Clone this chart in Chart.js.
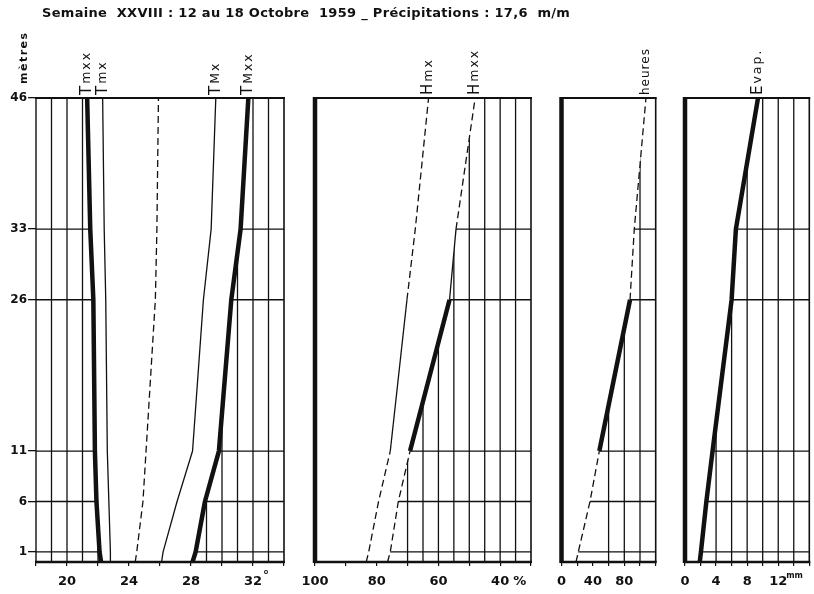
<!DOCTYPE html>
<html lang="fr">
<head>
<meta charset="utf-8">
<title>Semaine XXVIII – profils</title>
<script src="https://cdn.jsdelivr.net/npm/chart.js@4/dist/chart.umd.min.js"></script>
<style>
  body { margin: 0; background: #fff; }
  #page { position: relative; width: 814px; height: 594px; overflow: hidden; background: #fff; }
  canvas { position: absolute; top: 0; }
  #titre {
    position: absolute; left: 42px; top: 5px; white-space: pre; letter-spacing: 0.3px;
    font: bold 13px "DejaVu Sans", sans-serif; color: #111;
  }
</style>
</head>
<body>
<div id="page">
  <canvas id="p1" width="300" height="594" style="left:0"></canvas>
  <canvas id="p2" width="245" height="594" style="left:300px"></canvas>
  <canvas id="p3" width="125" height="594" style="left:545px"></canvas>
  <canvas id="p4" width="144" height="594" style="left:670px"></canvas>
  <div id="titre">Semaine  XXVIII : 12 au 18 Octobre  1959 _ Précipitations : 17,6  m/m</div>
</div>
<script>
// hauteurs de mesure (m), 0 = sol
const hauteurs = [0, 1, 6, 11, 26, 33, 46];
const niveaux = [1, 6, 11, 26, 33, 46];

// températures (°C)
const tMinAbs = [22.2, 22.1, 21.9, 21.8, 21.7, 21.5, 21.3];
const tMinMoy = [22.8, 22.8, 22.7, 22.6, 22.5, 22.4, 22.3];
const tMoy    = [24.4, 24.5, 24.9, 25.1, 25.7, 25.8, 25.9];
const tMaxMoy = [26.1, 26.2, 27.1, 28.1, 28.8, 29.3, 29.6];
const tMaxAbs = [28.1, 28.3, 28.9, 29.8, 30.6, 31.2, 31.7];

// humidité relative (%)
const hMinMoy = [83.4, 82.6, 79.4, 75.6, 70.2, 67.5, 63.2];
const hMinAbs = [76.5, 75.6, 73.0, 69.2, 56.4, 54.3, 48.1];

// heures
const heures = [18.5, 21.4, 36.3, 48.2, 87.3, 92.7, 107.6];

// évaporation (mm)
const evap = [1.9, 2.05, 2.75, 3.55, 6.0, 6.55, 9.4];

// graduations chiffrées
const ticksTemp = [20, 24, 28, 32];
const ticksHum = [100, 80, 60, 40];
const ticksHeures = [0, 40, 80];
const ticksEvap = [0, 4, 8, 12];

const encre = '#111';
const epais = 4.5, fin = 1.3, tirets = [7, 4];
const police = '"DejaVu Sans", sans-serif';

const traits = {
  tirets: { w: fin, dash: tirets },
  fin: { w: fin, dash: [] },
  gras: { w: epais, dash: [] }
};

// style d'un tronçon choisi d'après la hauteur de son point haut
function troncons(choix) {
  return {
    borderWidth: c => traits[choix(hauteurs[c.p1DataIndex])].w,
    borderDash: c => traits[choix(hauteurs[c.p1DataIndex])].dash
  };
}

const cadre = {
  id: 'cadre',
  beforeDatasetsDraw(chart, args, o) {
    const { ctx, chartArea: a, scales: { x, y } } = chart;
    // quadrillage seulement hors de l'enveloppe des courbes
    for (const zone of o.zones) {
      const pts = chart.getDatasetMeta(zone.serie).data;
      const bord = zone.cote === 'gauche' ? a.left : a.right;
      ctx.save();
      ctx.beginPath();
      ctx.moveTo(bord, a.bottom);
      ctx.lineTo(pts[0].x, a.bottom);
      pts.forEach(p => ctx.lineTo(p.x, p.y));
      ctx.lineTo(pts[pts.length - 1].x, a.top);
      ctx.lineTo(bord, a.top);
      ctx.closePath();
      ctx.clip();
      ctx.strokeStyle = encre;
      ctx.lineWidth = 1.3;
      ctx.beginPath();
      o.verticales.forEach(v => {
        const px = x.getPixelForValue(v);
        ctx.moveTo(px, a.top);
        ctx.lineTo(px, a.bottom);
      });
      niveaux.forEach(h => {
        const py = y.getPixelForValue(h);
        ctx.moveTo(a.left, py);
        ctx.lineTo(a.right, py);
      });
      ctx.stroke();
      ctx.restore();
    }
  },
  afterDatasetsDraw(chart, args, o) {
    const { ctx, chartArea: a, scales: { x } } = chart;
    ctx.save();
    ctx.strokeStyle = encre;
    ctx.fillStyle = encre;
    const ligne = (w, x0, y0, x1, y1) => {
      ctx.lineWidth = w;
      ctx.beginPath();
      ctx.moveTo(x0, y0);
      ctx.lineTo(x1, y1);
      ctx.stroke();
    };
    ligne(2.2, a.left - 1, a.top, a.right + 1, a.top);
    ligne(1.6, a.right, a.top, a.right, a.bottom);
    ligne(2.4, a.left - 1, a.bottom, a.right + 1, a.bottom);
    ligne(o.gauche, a.left, a.top - 1, a.left, a.bottom + 1);

    // noms des courbes au-dessus du cadre
    chart.data.datasets.forEach((ds, i) => {
      if (!ds.label) return;
      const pts = chart.getDatasetMeta(i).data;
      const p = pts[pts.length - 1];
      ctx.save();
      ctx.translate(p.x, a.top - 3);
      ctx.rotate(-Math.PI / 2);
      ctx.textAlign = 'left';
      ctx.textBaseline = 'middle';
      ctx.letterSpacing = '2px';
      if (ds.initiale) {
        ctx.font = '15px ' + police;
        ctx.fillText(ds.label[0], 0, 0);
        const w = ctx.measureText(ds.label[0]).width;
        ctx.font = '12.5px ' + police;
        ctx.fillText(ds.label.slice(1), w, 0);
      } else {
        ctx.font = '12px ' + police;
        ctx.letterSpacing = '1px';
        ctx.fillText(ds.label, 0, 0);
      }
      ctx.restore();
    });

    // unité à côté de la dernière graduation
    if (o.unite) {
      const u = o.unite;
      ctx.font = u.font;
      ctx.textAlign = 'left';
      ctx.textBaseline = 'middle';
      ctx.fillText(u.texte, x.getPixelForValue(u.valeur) + u.dx, a.bottom + u.dy);
    }

    if (o.titreY) {
      ctx.save();
      ctx.translate(24, 84);
      ctx.rotate(-Math.PI / 2);
      ctx.font = 'bold 11px ' + police;
      ctx.letterSpacing = '1.5px';
      ctx.textAlign = 'left';
      ctx.textBaseline = 'middle';
      ctx.fillText(o.titreY, 0, 0);
      ctx.restore();
    }
    ctx.restore();
  }
};

function panneau(id, p) {
  return new Chart(document.getElementById(id), {
    type: 'line',
    data: {
      datasets: p.series.map(s => ({
        label: s.nom,
        initiale: s.initiale !== false,
        data: hauteurs.map((h, i) => ({ x: s.valeurs[i], y: h })),
        borderColor: encre,
        borderWidth: s.largeur || fin,
        borderDash: s.tirets ? tirets : [],
        segment: s.choix ? troncons(s.choix) : undefined,
        borderJoinStyle: 'round',
        pointRadius: 0,
        tension: 0,
        fill: false
      }))
    },
    options: {
      responsive: false,
      animation: false,
      indexAxis: 'y',
      layout: { padding: p.marges },
      plugins: {
        legend: { display: false },
        tooltip: { enabled: false },
        cadre: p.cadre
      },
      scales: {
        x: {
          type: 'linear',
          min: p.min,
          max: p.max,
          reverse: !!p.inverse,
          afterFit: s => {
            s.height = 32;
            s.paddingLeft = 0;
            s.paddingRight = 0;
          },
          border: { display: false },
          grid: { drawOnChartArea: false, tickLength: 4, color: encre, lineWidth: 1.2 },
          ticks: {
            stepSize: p.pas,
            autoSkip: false,
            maxRotation: 0,
            padding: 8,
            color: encre,
            font: { family: police, size: 13, weight: 'bold' },
            callback: v => p.chiffres.includes(v) ? String(v) : ''
          }
        },
        y: {
          type: 'linear',
          min: 0,
          max: 46,
          display: !!p.axeY,
          afterFit: s => { s.width = p.axeY ? 36 : 0; },
          afterBuildTicks: s => { s.ticks = niveaux.map(v => ({ value: v })); },
          border: { display: false },
          grid: { drawOnChartArea: false, tickLength: 8, color: encre, lineWidth: 1.3 },
          ticks: {
            padding: 1,
            color: encre,
            font: { family: police, size: 12, weight: 'bold' }
          }
        }
      }
    },
    plugins: [cadre]
  });
}

panneau('p1', {
  min: 18, max: 34, pas: 2, chiffres: ticksTemp, axeY: true,
  marges: { left: 0, right: 16, top: 98, bottom: 0 },
  series: [
    { nom: 'Tmxx', valeurs: tMinAbs, largeur: epais },
    { nom: 'Tmx', valeurs: tMinMoy },
    { nom: '', valeurs: tMoy, tirets: true },
    { nom: 'TMx', valeurs: tMaxMoy },
    { nom: 'TMxx', valeurs: tMaxAbs, largeur: epais }
  ],
  cadre: {
    gauche: 1.4,
    titreY: 'mètres',
    zones: [{ serie: 0, cote: 'gauche' }, { serie: 4, cote: 'droite' }],
    verticales: [19, 20, 21, 22, 28, 29, 30, 31, 32, 33],
    unite: { valeur: 32, texte: '°', dx: 10, dy: 14, font: 'bold 12px ' + police }
  }
});

panneau('p2', {
  min: 30, max: 100, pas: 10, chiffres: ticksHum, inverse: true,
  marges: { left: 15, right: 14, top: 98, bottom: 0 },
  series: [
    { nom: 'Hmx', valeurs: hMinMoy, choix: h => h <= 11 ? 'tirets' : h <= 26 ? 'fin' : 'tirets' },
    { nom: 'Hmxx', valeurs: hMinAbs, choix: h => h <= 11 ? 'tirets' : h <= 26 ? 'gras' : h <= 33 ? 'fin' : 'tirets' }
  ],
  cadre: {
    gauche: 4.5,
    zones: [{ serie: 1, cote: 'droite' }],
    verticales: [70, 65, 60, 55, 50, 45, 40, 35],
    unite: { valeur: 40, texte: '%', dx: 13, dy: 20, font: 'bold 13px ' + police }
  }
});

panneau('p3', {
  min: 0, max: 120, pas: 20, chiffres: ticksHeures,
  marges: { left: 16.5, right: 14.3, top: 98, bottom: 0 },
  series: [
    { nom: 'heures', initiale: false, valeurs: heures, choix: h => h <= 11 ? 'tirets' : h <= 26 ? 'gras' : 'tirets' }
  ],
  cadre: {
    gauche: 4.5,
    zones: [{ serie: 0, cote: 'droite' }],
    verticales: [60, 80, 100]
  }
});

panneau('p4', {
  min: 0, max: 16, pas: 2, chiffres: ticksEvap,
  marges: { left: 15, right: 4.7, top: 98, bottom: 0 },
  series: [
    { nom: 'Evap.', valeurs: evap, largeur: epais }
  ],
  cadre: {
    gauche: 4.5,
    zones: [{ serie: 0, cote: 'droite' }],
    verticales: [4, 6, 8, 10, 12, 14],
    unite: { valeur: 12, texte: 'mm', dx: 8, dy: 14, font: 'bold 8px ' + police }
  }
});
</script>
</body>
</html>
